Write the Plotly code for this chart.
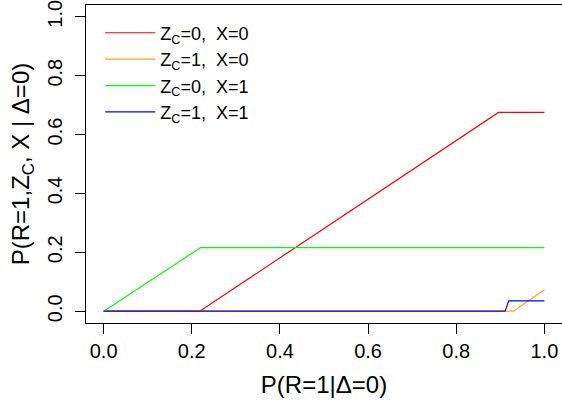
import plotly.graph_objects as go

# Data
red_x = [0.0, 0.218, 0.896, 1.0]
red_y = [0.0, 0.0, 0.675, 0.675]
orange_x = [0.0, 0.93, 1.0]
orange_y = [0.0, 0.0, 0.073]
green_x = [0.0, 0.22, 1.0]
green_y = [0.0, 0.216, 0.216]
blue_x = [0.0, 0.911, 0.919, 1.0]
blue_y = [0.0, 0.0, 0.035, 0.035]

names = ["Z<sub>C</sub>=0,\u00a0 X=0", "Z<sub>C</sub>=1,\u00a0 X=0",
         "Z<sub>C</sub>=0,\u00a0 X=1", "Z<sub>C</sub>=1,\u00a0 X=1"]
colors = ["#FF0000", "#FFA500", "#00FF00", "#0000FF"]
xs = [red_x, orange_x, green_x, blue_x]
ys = [red_y, orange_y, green_y, blue_y]

tick_vals = [0.0, 0.2, 0.4, 0.6, 0.8, 1.0]
tick_text = ["0.0", "0.2", "0.4", "0.6", "0.8", "1.0"]

fig = go.Figure()
for i in range(4):
    fig.add_trace(go.Scatter(x=xs[i], y=ys[i], mode="lines", name=names[i],
                             legendgroup="g%d" % i,
                             line=dict(color=colors[i], width=1.2)))

font = "Liberation Sans, Arial, sans-serif"
fig.update_layout(
    width=562, height=404,
    margin=dict(l=86, r=0, t=5, b=81),
    plot_bgcolor="white", paper_bgcolor="white",
    font=dict(family=font, size=20, color="black"),
    showlegend=True,
    legend=dict(x=0.03, y=0.97, xanchor="left", yanchor="top",
                bgcolor="rgba(0,0,0,0)", font=dict(size=18),
                tracegroupgap=0, traceorder="grouped", itemwidth=50),
    xaxis=dict(range=[-0.04, 1.04], tickvals=tick_vals, ticktext=tick_text,
               showgrid=False, zeroline=False, showline=True, mirror=True,
               linecolor="black", linewidth=1, ticks="outside", ticklen=10,
               tickcolor="black", automargin=False, ticklabeloverflow="allow",
               title=dict(text="P(R=1|\u0394=0)", standoff=15)),
    yaxis=dict(range=[-0.04, 1.04], tickvals=tick_vals, ticktext=tick_text,
               showgrid=False, zeroline=False, showline=True, mirror=True,
               linecolor="black", linewidth=1, ticks="outside", ticklen=10,
               tickcolor="black", tickangle=-90, automargin=False,
               ticklabeloverflow="allow", ticklabelstandoff=5,
               title=dict(text="P(R=1,Z<sub>C</sub>, X | \u0394=0)", standoff=7)),
)

fig.write_html("out.html", config={"displayModeBar": False},
               post_script="document.body.style.margin='0';document.body.style.overflow='hidden';")
